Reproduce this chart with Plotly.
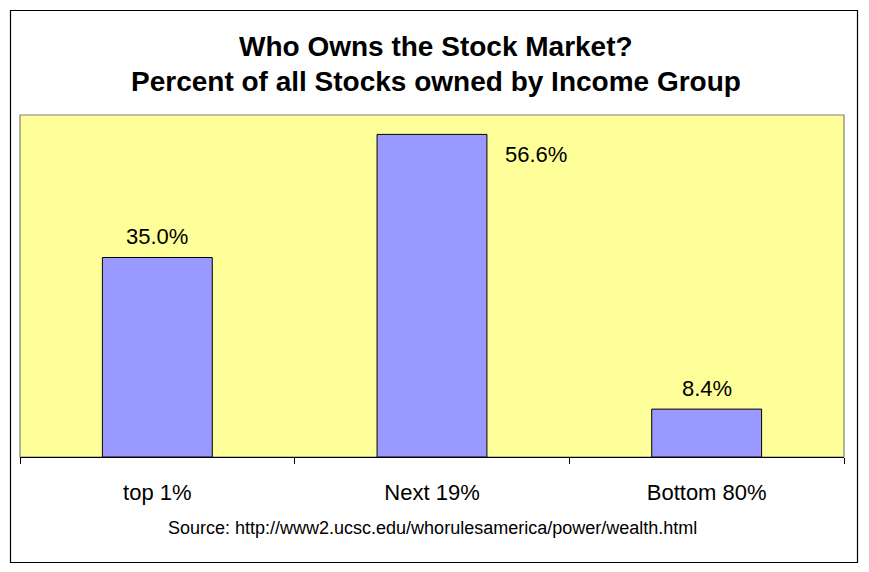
import plotly.graph_objects as go

categories = ["top 1%", "Next 19%", "Bottom 80%"]
values = [35.0, 56.6, 8.4]
value_labels = ["35.0%", "56.6%", "8.4%"]
title_lines = ["Who Owns the Stock Market?", "Percent of all Stocks owned by Income Group"]
source_text = "Source: http://www2.ucsc.edu/whorulesamerica/power/wealth.html"

W, H = 869, 572
ML, MR, MT, MB = 20, 25, 115, 115
PH = H - MT - MB
PW = W - ML - MR
FONT = "Arial, Liberation Sans, sans-serif"

def py(p):  # pixel y -> paper y
    return (H - MB - p) / PH

def px(p):  # pixel x -> paper x
    return (p - ML) / PW

fig = go.Figure()
fig.add_trace(go.Bar(
    x=categories, y=values, width=0.4,
    marker=dict(color="#9999FF", line=dict(color="black", width=1)),
    hoverinfo="skip",
))

annotations = []
# value labels
for i, (c, v, t) in enumerate(zip(categories, values, value_labels)):
    if i == 1:
        annotations.append(dict(x=c, y=v, text=t, showarrow=False, xref="x", yref="y",
                                xshift=104, yshift=-20, font=dict(size=22, family=FONT, color="black")))
    else:
        annotations.append(dict(x=c, y=v, text=t, showarrow=False, xref="x", yref="y",
                                yshift=21, font=dict(size=22, family=FONT, color="black")))
# title
annotations.append(dict(x=px(435.5), y=py(46), xref="paper", yref="paper", text="<b>%s</b>" % title_lines[0],
                        showarrow=False, xanchor="center", yanchor="middle",
                        font=dict(size=28, family=FONT, color="black")))
annotations.append(dict(x=px(435.5), y=py(81), xref="paper", yref="paper", text="<b>%s</b>" % title_lines[1],
                        showarrow=False, xanchor="center", yanchor="middle",
                        font=dict(size=28, family=FONT, color="black")))
annotations.append(dict(x=px(432.5), y=py(528), xref="paper", yref="paper", text=source_text,
                        showarrow=False, xanchor="center", yanchor="middle",
                        font=dict(size=18, family=FONT, color="black")))

shapes = [
    # outer border
    dict(type="rect", xref="paper", yref="paper", x0=px(10.5), x1=px(857.5), y0=py(562.5), y1=py(10.5),
         line=dict(color="black", width=1.2), fillcolor="rgba(0,0,0,0)", layer="below"),
    # plot area border
    dict(type="rect", xref="paper", yref="paper", x0=0, x1=1, y0=0, y1=1,
         line=dict(color="#808080", width=1.2), fillcolor="rgba(0,0,0,0)", layer="below"),
]

fig.update_layout(
    width=W, height=H,
    margin=dict(l=ML, r=MR, t=MT, b=MB, pad=0),
    paper_bgcolor="white", plot_bgcolor="#FFFF99",
    showlegend=False,
    annotations=annotations, shapes=shapes,
    font=dict(family=FONT, color="black"),
    xaxis=dict(type="category", range=[-0.5, 2.5], tickson="boundaries", ticks="outside",
               ticklen=6, tickcolor="black", tickwidth=1, showline=True, linecolor="black",
               linewidth=1, showgrid=False, tickfont=dict(size=22, family=FONT, color="black"),
               ticklabelstandoff=16, fixedrange=True, zeroline=False),
    yaxis=dict(range=[0, 60], showticklabels=False, showgrid=False, zeroline=False,
               ticks="", showline=False, fixedrange=True),
    bargap=0.6,
)

fig.write_html("out.html", config={"displayModeBar": False})
